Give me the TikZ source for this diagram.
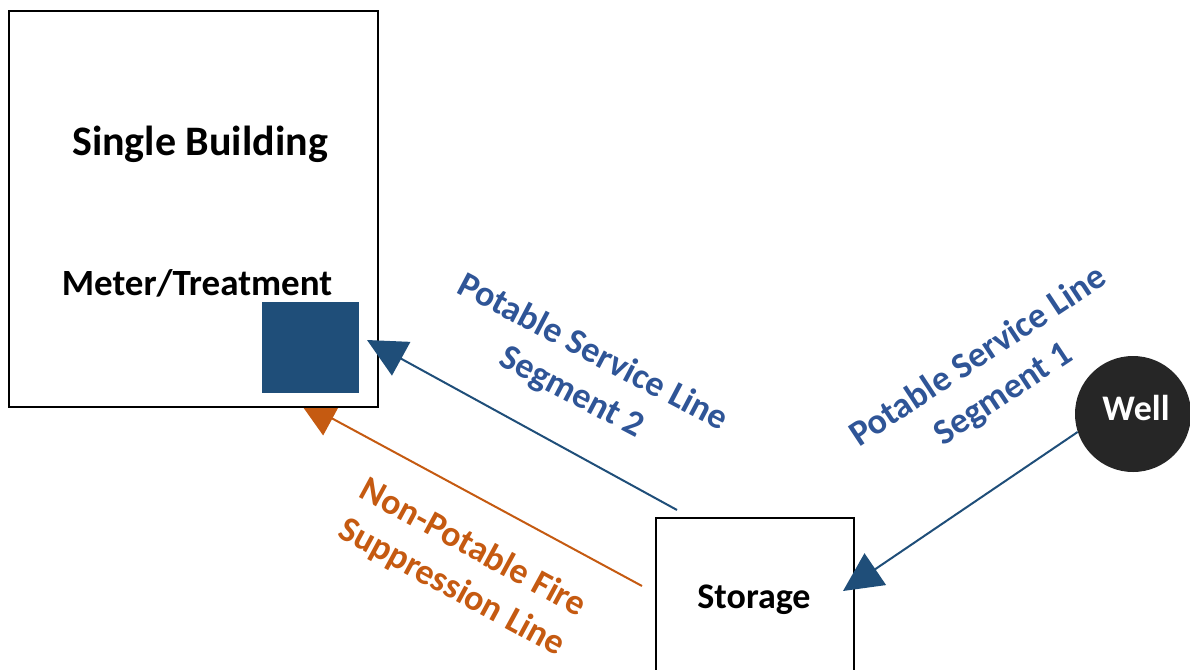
\documentclass[tikz,border=0pt]{standalone}
\usepackage{fontspec}
\setmainfont{Carlito}
\usetikzlibrary{arrows.meta}
\definecolor{pipeblue}{HTML}{1F4E79}
\definecolor{labelblue}{HTML}{2F5597}
\definecolor{fireorange}{HTML}{C55A11}
\definecolor{wellgray}{HTML}{262626}
\tikzset{
  box/.style={draw=black, line width=2.8pt, fill=white, inner sep=0pt},
  title/.style={font=\fontsize{42}{50}\selectfont\bfseries, anchor=base},
  boxlabel/.style={font=\fontsize{36}{43}\selectfont\bfseries, anchor=base},
  linelabel/.style={font=\fontsize{36}{45}\selectfont\bfseries, align=center, inner sep=0pt},
  pipe/.style={line width=2pt, -{Triangle[length=39pt,width=38pt]}},
}
\begin{document}
\begin{tikzpicture}[x=1pt, y=-1pt]
\useasboundingbox (0,0) rectangle (1190,669);
\clip (0,0) rectangle (1190,669);

% fire suppression line, partly hidden behind the building
\coordinate (fireStart) at (642,586);
\coordinate (fireEnd) at (298,400);
\draw[pipe, draw=fireorange, fill=fireorange] (fireStart) -- (fireEnd);

% building with its meter/treatment unit
\node[box, minimum width=369pt, minimum height=396pt] (building) at (193.5,209) {};
\node[title] (bname) at (200,155) {Single Building};
\node[boxlabel, font=\fontsize{37}{44}\selectfont\bfseries] (mname) at (197,295) {Meter/Treatment};
\node[fill=pipeblue, inner sep=0pt, minimum width=97pt, minimum height=91pt] (meter) at (310.5,347.5) {};

% storage tank
\node[box, minimum width=198pt, minimum height=202pt] (storage) at (755,619) {};
\node[boxlabel] (sname) at (754,608) {Storage};

% well
\node[circle, fill=wellgray, minimum size=116pt, inner sep=0pt] (well) at (1133,414) {};
\node[boxlabel, text=white] (wname) at (1136,420) {Well};

% potable service lines
\coordinate (segTwoStart) at (677,510);
\coordinate (segTwoEnd) at (367,340);
\draw[pipe, draw=pipeblue, fill=pipeblue] (segTwoStart) -- (segTwoEnd);

\coordinate (segOneEnd) at (843,591);
\draw[pipe, draw=pipeblue, fill=pipeblue] (well.198) -- (segOneEnd);

% line labels
\node[linelabel, text=labelblue, rotate=-27.7] (lblTwo) at (582,373)
  {Potable Service Line\\Segment 2};
\node[linelabel, text=labelblue, rotate=33.5] (lblOne) at (991,376)
  {Potable Service Line\\Segment 1};
\node[linelabel, text=fireorange, rotate=-28.5] (lblFire) at (462,568)
  {Non-Potable Fire\\Suppression Line};
\end{tikzpicture}
\end{document}
